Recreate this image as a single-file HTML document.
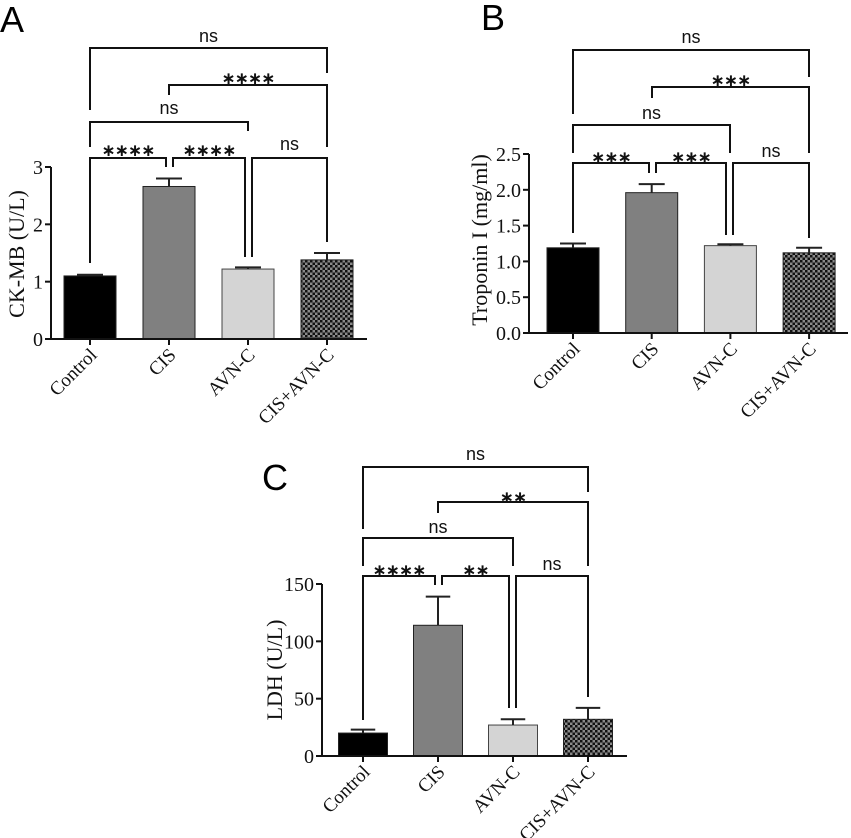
<!DOCTYPE html>
<html><head><meta charset="utf-8"><style>
html,body{margin:0;padding:0;background:#fff;}
svg{display:block;}
.tk{font-family:"Liberation Serif",serif;font-size:20px;fill:#111;}
.xt{font-family:"Liberation Serif",serif;font-size:19px;fill:#111;}
.sig{font-family:"Liberation Sans",sans-serif;font-size:18px;fill:#111;}
.star{font-family:"DejaVu Sans",sans-serif;font-size:17px;font-weight:bold;fill:#111;letter-spacing:-1px;}
.pl{font-family:"Liberation Sans",sans-serif;font-size:36px;fill:#000;}
</style></head><body>
<svg id="fig" width="851" height="838" viewBox="0 0 851 838">
<defs>
<pattern id="chk" width="5" height="5" patternUnits="userSpaceOnUse">
<rect width="5" height="5" fill="#8a8a8a"/><rect width="2.5" height="2.5" fill="#111"/><rect x="2.5" y="2.5" width="2.5" height="2.5" fill="#111"/>
</pattern>
</defs>
</svg>
<script>
const categories = ["Control","CIS","AVN-C","CIS+AVN-C"];
const ckmbValues = [1.1, 2.66, 1.22, 1.38];
const ckmbErrors = [0.02, 0.14, 0.03, 0.12];
const ckmbTicks = ["0","1","2","3"];
const tropValues = [1.19, 1.96, 1.22, 1.12];
const tropErrors = [0.06, 0.12, 0.02, 0.07];
const tropTicks = ["0.0","0.5","1.0","1.5","2.0","2.5"];
const ldhValues = [20, 114, 27, 32];
const ldhErrors = [3, 25, 5, 10];
const ldhTicks = ["0","50","100","150"];
const ckmbSig = ["****","****","ns","ns","****","ns"];
const tropSig = ["***","***","ns","ns","***","ns"];
const ldhSig = ["****","**","ns","ns","**","ns"];

const NS="http://www.w3.org/2000/svg";
const svg=document.getElementById('fig');
function mk(tag,attrs,parent){const e=document.createElementNS(NS,tag);for(const k in attrs)e.setAttribute(k,attrs[k]);(parent||svg).appendChild(e);return e;}
const fills=["#000","#808080","#d4d4d4","url(#chk)"];

function panel(cfg){
  const g=mk('g',{});
  
  
  const yMax=cfg.yMax;
  const y=v=>cfg.base-(v/yMax)*(cfg.base-cfg.top);
  const xs=i=>cfg.x0+i*cfg.step;
  cfg.values.forEach((v,i)=>{
    const b=mk('rect',{x:xs(i)-cfg.bw/2,y:y(v),width:cfg.bw,height:cfg.base-y(v),fill:fills[i],stroke:i==2?'#444':'#222','stroke-width':1},g);
    
    
    const et=y(v+cfg.errors[i]);
    const e=mk('path',{d:`M${xs(i)},${y(v)}V${et}M${xs(i)-cfg.bw/4},${et}H${xs(i)+cfg.bw/4}`,stroke:'#222','stroke-width':2,fill:'none'},g);
    
    
  });
  const ax=mk('path',{d:`M${cfg.ax},${cfg.top}V${cfg.base}H${cfg.axEnd}`,stroke:'#111','stroke-width':2,fill:'none'},g);
  
  
  cfg.ticks.forEach((t,i)=>{
    const v=i*yMax/(cfg.ticks.length-1);
    mk('line',{x1:cfg.ax-6,x2:cfg.ax,y1:y(v),y2:y(v),stroke:'#111','stroke-width':2},g);
    const tx=mk('text',{x:cfg.ax-8,y:y(v)+7,'text-anchor':'end',class:'tk'},g);
    tx.textContent=t;
    
    
  });
  categories.forEach((c,i)=>{
    mk('line',{x1:xs(i),x2:xs(i),y1:cfg.base,y2:cfg.base+6,stroke:'#111','stroke-width':2},g);
    const tx=mk('text',{x:0,y:0,'text-anchor':'end',class:'xt',transform:`translate(${xs(i)+8},${cfg.base+17}) rotate(-45)`},g);
    tx.textContent=c;
    
    
  });
  const yl=mk('text',{x:0,y:0,'text-anchor':'middle',class:'tk',style:'font-size:22px',transform:`translate(${cfg.ylx},${cfg.yly}) rotate(-90)`},g);
  yl.textContent=cfg.ylabel;
  
  
  const pl=mk('text',{x:cfg.lx,y:cfg.ly,class:'pl'},g);
  pl.textContent=cfg.letter;
  
  
  cfg.br.forEach((b,k)=>{
    const p=mk('path',{d:`M${b[0]},${b[3]}V${b[2]}H${b[1]}V${b[4]}`,stroke:'#111','stroke-width':2,fill:'none'},g);
    
    
    const s=cfg.sig[k];
    const t=mk('text',{x:(b[0]+b[1])/2,y:b[5]+(s==='ns'?0:6),'text-anchor':'middle',class:s==='ns'?'sig':'star'},g);
    t.textContent=s==='ns'?'ns':s.replace(/\*/g,'∗');
    
    
  });
}

panel({name:'panel-a-ckmb',values:ckmbValues,errors:ckmbErrors,ticks:ckmbTicks,sig:ckmbSig,yMax:3,
  base:339,top:167,x0:90,step:79,bw:52,ax:51,axEnd:367,ylabel:'CK-MB (U/L)',ylx:24,yly:254,letter:'A',lx:0,ly:32,
  br:[[90,166,158,263,167,150],[173,245,158,167,257,150],[252,327,158,257,242,150],
      [90,248,122,147,131,114],[169,327,85,95,147,78],[90,327,48,110,73,42]]});
panel({name:'panel-b-troponin',values:tropValues,errors:tropErrors,ticks:tropTicks,sig:tropSig,yMax:2.5,
  base:333,top:154,x0:573,step:78.7,bw:52,ax:529,axEnd:848,ylabel:'Troponin I (mg/ml)',ylx:487,yly:240,letter:'B',lx:481,ly:30,
  br:[[573,649,163,233,173,157],[656,726,163,173,235,157],[733,809,163,235,238,157],
      [573,730,125,153,153,119],[652,809,87,98,153,80],[573,809,50,114,77,43]]});
panel({name:'panel-c-ldh',values:ldhValues,errors:ldhErrors,ticks:ldhTicks,sig:ldhSig,yMax:150,
  base:756,top:584,x0:363,step:75,bw:49,ax:322,axEnd:627,ylabel:'LDH (U/L)',ylx:282,yly:670,letter:'C',lx:262,ly:490,
  br:[[363,435,576,720,585,570],[442,509,576,585,708,570],[516,588,576,708,697,570],
      [363,513,538,566,566,533],[438,588,502,513,566,497],[363,588,467,529,492,460]]});
</script>
</body></html>
